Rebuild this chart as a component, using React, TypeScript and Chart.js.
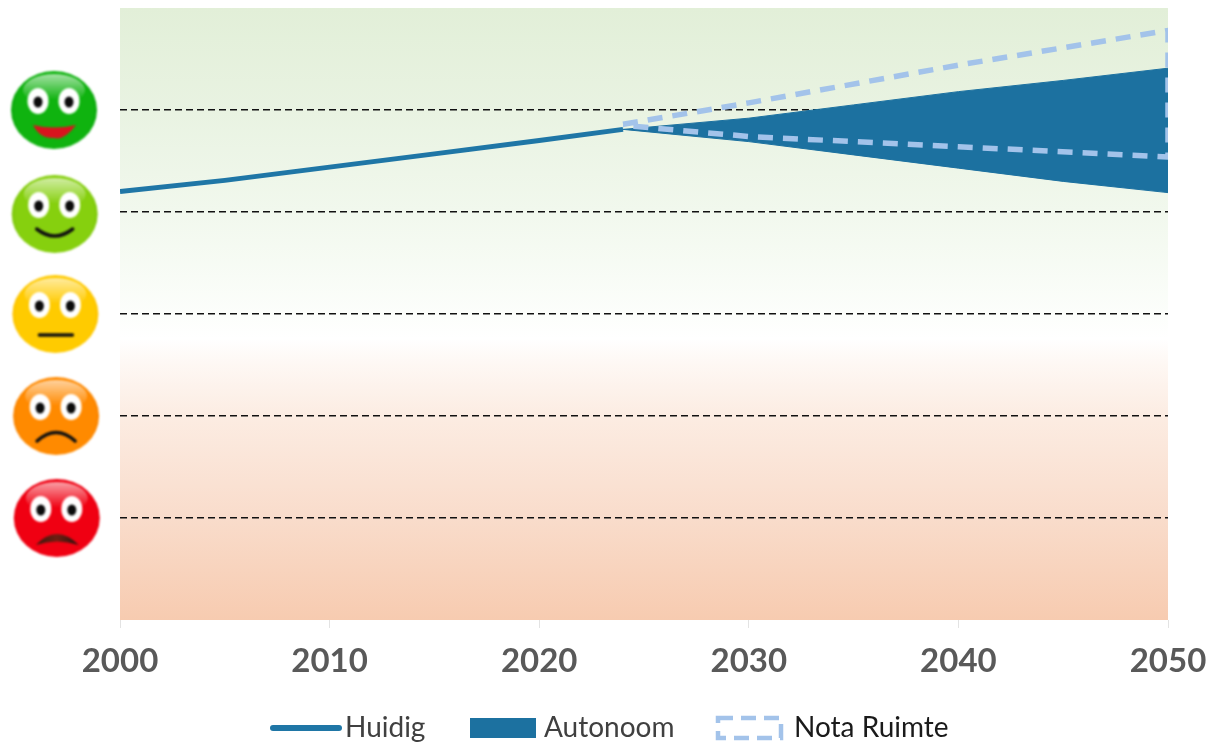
import React, { useEffect, useRef } from "react";
import { Chart, registerables } from "chart.js";

Chart.register(...registerables);

const huidigYears = [2000, 2005, 2010, 2015, 2020, 2024];
const huidigValues = [4.2, 4.31, 4.44, 4.57, 4.7, 4.81];

const autonoomYears = [2024, 2030, 2035, 2040, 2045, 2050];
const autonoomHigh = [4.81, 4.92, 5.05, 5.18, 5.29, 5.41];
const autonoomLow = [4.81, 4.69, 4.56, 4.43, 4.3, 4.19];

const notaYears = [2024, 2030, 2040, 2050, 2050, 2040, 2030, 2024];
const notaValues = [4.86, 5.07, 5.44, 5.78, 4.54, 4.64, 4.74, 4.85];

const faceValues = [5, 4, 3, 2, 1];
const faceColors = ["#0fb30f", "#86d00e", "#ffcb00", "#ff8a00", "#f00012"];
const faceEdges = ["#07a00a", "#78c20a", "#fbbe00", "#f58000", "#e4000e"];
const faceMouths = ["open", "smile", "flat", "frown", "sad"];

const LINE = "#1f76a6";
const BAND = "#1c71a0";
const DASH = "#a3c3ea";
const FONT = "Lato, Carlito, sans-serif";

const toPoints = (xs: number[], ys: number[]) => xs.map((x, i) => ({ x, y: ys[i] }));

function drawFace(ctx: CanvasRenderingContext2D, cx: number, cy: number, i: number) {
  const rx = 43;
  const ry = 39;
  ctx.save();
  (ctx as any).filter = "blur(0.8px)";
  const g = ctx.createRadialGradient(cx, cy + 4, 10, cx, cy, 46);
  g.addColorStop(0, faceColors[i]);
  g.addColorStop(0.8, faceColors[i]);
  g.addColorStop(1, faceEdges[i]);
  ctx.fillStyle = g;
  ctx.beginPath();
  ctx.ellipse(cx, cy, rx, ry, 0, 0, Math.PI * 2);
  ctx.fill();

  const glare = ctx.createLinearGradient(0, cy - 35, 0, cy - 10);
  glare.addColorStop(0, "rgba(255,255,255,0.6)");
  glare.addColorStop(1, "rgba(255,255,255,0)");
  ctx.fillStyle = glare;
  ctx.beginPath();
  ctx.ellipse(cx, cy - 20, 31, 16, 0, 0, Math.PI * 2);
  ctx.fill();

  for (const dx of [-16, 15]) {
    ctx.fillStyle = "#ffffff";
    ctx.beginPath();
    ctx.ellipse(cx + dx, cy - 9, 10.5, 13, 0, 0, Math.PI * 2);
    ctx.fill();
    ctx.fillStyle = "#0b0b0b";
    ctx.beginPath();
    ctx.ellipse(cx + dx, cy - 8, 4.5, 5.5, 0, 0, Math.PI * 2);
    ctx.fill();
  }

  const m = faceMouths[i];
  ctx.strokeStyle = "#111111";
  ctx.lineCap = "round";
  ctx.lineWidth = 3.5;
  ctx.beginPath();
  if (m === "open") {
    ctx.moveTo(cx - 21, cy + 15);
    ctx.quadraticCurveTo(cx, cy + 20, cx + 22, cy + 15);
    ctx.quadraticCurveTo(cx + 10, cy + 31, cx, cy + 28);
    ctx.quadraticCurveTo(cx - 14, cy + 29, cx - 21, cy + 15);
    ctx.fillStyle = "#d8141e";
    ctx.fill();
  } else if (m === "smile") {
    ctx.moveTo(cx - 18, cy + 15);
    ctx.quadraticCurveTo(cx, cy + 29, cx + 18, cy + 15);
    ctx.stroke();
  } else if (m === "flat") {
    ctx.moveTo(cx - 16, cy + 21);
    ctx.lineTo(cx + 17, cy + 21);
    ctx.stroke();
  } else if (m === "frown") {
    ctx.moveTo(cx - 19, cy + 25);
    ctx.quadraticCurveTo(cx, cy + 8, cx + 19, cy + 25);
    ctx.stroke();
  } else {
    ctx.moveTo(cx - 21, cy + 27);
    ctx.quadraticCurveTo(cx, cy + 5, cx + 22, cy + 27);
    ctx.quadraticCurveTo(cx, cy + 20, cx - 21, cy + 27);
    const s = ctx.createLinearGradient(cx - 20, 0, cx + 20, 0);
    s.addColorStop(0, "#3a1a10");
    s.addColorStop(0.5, "#6e1e12");
    s.addColorStop(1, "#2a1410");
    ctx.fillStyle = s;
    ctx.fill();
  }
  ctx.restore();
}

const backdrop = {
  id: "backdrop",
  beforeDraw(chart: any) {
    const { ctx, chartArea: a } = chart;
    const g = ctx.createLinearGradient(0, a.top, 0, a.bottom);
    g.addColorStop(0, "#e2efd8");
    g.addColorStop(0.17, "#e9f3e2");
    g.addColorStop(0.33, "#f1f8ed");
    g.addColorStop(0.5, "#fcfefb");
    g.addColorStop(0.54, "#ffffff");
    g.addColorStop(0.58, "#fef8f4");
    g.addColorStop(0.667, "#fcece2");
    g.addColorStop(0.833, "#f9dccb");
    g.addColorStop(1, "#f7cbb0");
    ctx.save();
    ctx.fillStyle = "#ffffff";
    ctx.fillRect(0, 0, chart.width, chart.height);
    ctx.fillStyle = g;
    ctx.fillRect(a.left, a.top, a.right - a.left, a.bottom - a.top);
    ctx.restore();
  },
};

const facesAndLegend = {
  id: "facesAndLegend",
  afterDraw(chart: any) {
    const { ctx } = chart;
    const yScale = chart.scales.y;
    faceValues.forEach((v, i) => {
      drawFace(ctx, 54 + i * 0.7, yScale.getPixelForValue(v) + (i === 1 ? 2 : 0), i);
    });

    ctx.save();
    ctx.font = `28px ${FONT}`;
    ctx.textBaseline = "middle";
    ctx.textAlign = "left";
    const y = 728;

    ctx.strokeStyle = LINE;
    ctx.lineWidth = 6;
    ctx.lineCap = "round";
    ctx.beginPath();
    ctx.moveTo(273, y);
    ctx.lineTo(339, y);
    ctx.stroke();
    ctx.fillStyle = "#404040";
    ctx.fillText(chart.data.datasets[0].label, 345, y);

    ctx.fillStyle = BAND;
    ctx.fillRect(470, y - 10, 66, 20);
    ctx.fillStyle = "#404040";
    ctx.fillText(chart.data.datasets[1].label, 544, y);

    ctx.strokeStyle = DASH;
    ctx.lineWidth = 4.5;
    ctx.lineCap = "butt";
    ctx.setLineDash([15, 8]);
    ctx.strokeRect(718, y - 10, 63, 20);
    ctx.setLineDash([]);
    ctx.fillStyle = "#1a1a1a";
    ctx.fillText(chart.data.datasets[3].label, 794, y);
    ctx.restore();
  },
};

export default function App() {
  const ref = useRef<HTMLCanvasElement>(null);

  useEffect(() => {
    const chart = new Chart(ref.current as HTMLCanvasElement, {
      type: "line",
      data: {
        datasets: [
          {
            label: "Huidig",
            data: toPoints(huidigYears, huidigValues),
            borderColor: LINE,
            borderWidth: 5,
            pointRadius: 0,
            order: 2,
          },
          {
            label: "Autonoom",
            data: toPoints(autonoomYears, autonoomHigh),
            borderColor: BAND,
            backgroundColor: BAND,
            borderWidth: 1,
            pointRadius: 0,
            fill: "+1",
            order: 3,
          },
          {
            label: "Autonoom (onder)",
            data: toPoints(autonoomYears, autonoomLow),
            borderColor: BAND,
            borderWidth: 1,
            pointRadius: 0,
            order: 3,
          },
          {
            label: "Nota Ruimte",
            data: toPoints(notaYears, notaValues),
            borderColor: DASH,
            borderWidth: 5.5,
            borderDash: [15, 10],
            pointRadius: 0,
            order: 1,
          },
        ],
      } as any,
      options: {
        responsive: false,
        animation: false,
        layout: { padding: { top: 8, right: 54, left: 0, bottom: 0 } },
        plugins: { legend: { display: false }, tooltip: { enabled: false } },
        scales: {
          x: {
            type: "linear",
            min: 2000,
            max: 2050,
            afterFit: (s: any) => {
              s.height = 124;
            },
            ticks: {
              stepSize: 10,
              maxRotation: 0,
              padding: 14,
              color: "#595959",
              font: { family: FONT, size: 33, weight: "bold" },
              callback: (v: any) => String(v),
            },
            grid: {
              drawOnChartArea: false,
              drawTicks: true,
              tickLength: 8,
              color: "#e3e3e3",
            },
            border: { display: false },
          },
          y: {
            min: 0,
            max: 6,
            afterFit: (s: any) => {
              s.width = 120;
            },
            ticks: { display: false, stepSize: 1 },
            border: { display: false, dash: [7, 4] },
            grid: {
              drawTicks: false,
              color: (c: any) =>
                c.tick && c.tick.value > 0 && c.tick.value < 6 ? "#111111" : "rgba(0,0,0,0)",
              lineWidth: 1.4,
            },
          },
        },
      } as any,
      plugins: [backdrop, facesAndLegend],
    } as any);
    return () => chart.destroy();
  }, []);

  return (
    <div style={{ position: "absolute", left: 0, top: 0, width: 1222, height: 744 }}>
      <canvas ref={ref} width={1222} height={744} style={{ display: "block" }} />
    </div>
  );
}
